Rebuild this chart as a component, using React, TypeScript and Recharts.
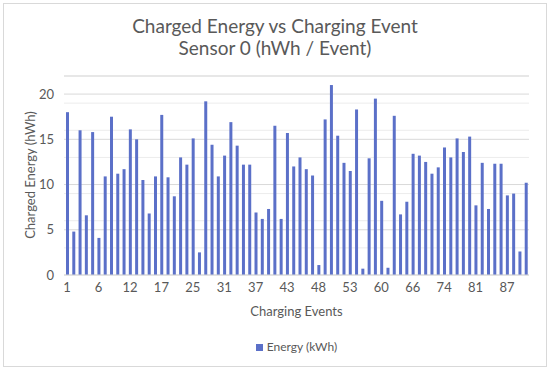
import { BarChart, Bar, XAxis, YAxis, CartesianGrid } from 'recharts'

// charging event ids (only every 5th is labelled on the axis)
const events = [
  1, 2, 3, 4, 5, 6, 7, 8, 10, 11, 12, 13, 14, 15, 16, 17, 19, 20, 22, 23,
  25, 26, 28, 29, 30, 31, 32, 34, 35, 36, 37, 38, 39, 41, 42, 43, 44, 45, 46, 47,
  48, 49, 50, 51, 52, 53, 55, 56, 57, 59, 60, 61, 62, 64, 65, 66, 68, 69, 71, 72,
  74, 75, 77, 78, 80, 81, 82, 83, 85, 86, 87, 88, 89, 90,
]

// energy per event (kWh)
const energy = [
  18.0, 4.8, 16.0, 6.6, 15.8, 4.1, 10.9, 17.5, 11.2, 11.7, 16.1, 15.0, 10.5, 6.8, 10.9, 17.7, 10.8, 8.7, 13.0, 12.2,
  15.1, 2.5, 19.2, 14.4, 10.9, 13.2, 16.9, 14.3, 12.2, 12.2, 6.9, 6.2, 7.3, 16.5, 6.2, 15.7, 12.0, 13.0, 11.7, 11.0,
  1.1, 17.2, 21.0, 15.4, 12.4, 11.5, 18.3, 0.7, 12.9, 19.5, 8.2, 0.8, 17.6, 6.7, 8.1, 13.4, 13.2, 12.5, 11.2, 11.9,
  14.1, 13.0, 15.1, 13.6, 15.3, 7.7, 12.4, 7.3, 12.3, 12.3, 8.8, 9.0, 2.6, 10.2,
]

const yTicks = [0, 5, 10, 15, 20]
const minorLines = [1, 2, 3, 4, 6, 7, 8, 9, 11, 12, 13, 14, 16, 17, 18, 19, 21, 22]

const data = events.map((e, i) => ({ event: String(e), energy: energy[i] }))

const font = 'Lato, "Open Sans", sans-serif'
const grey = '#595959'
const barColor = '#5b70c8'

export default function App() {
  return (
    <div style={{ position: 'absolute', left: 0, top: 0, width: 550, height: 370, background: '#fff', fontFamily: font, color: grey }}>
      <div style={{ position: 'absolute', left: 3, top: 3, right: 3, bottom: 3, border: '1px solid #d9d9d9' }} />
      <div style={{ position: 'absolute', top: 15, width: 550, textAlign: 'center', fontSize: 19, lineHeight: '22px' }}>
        Charged Energy vs Charging Event<br />Sensor 0 (hWh / Event)
      </div>
      <div style={{ position: 'absolute', left: 30, top: 175, transform: 'translate(-50%, -50%) rotate(-90deg)', whiteSpace: 'nowrap', fontSize: 13 }}>
        Charged Energy (hWh)
      </div>
      <div style={{ position: 'absolute', left: 64, width: 465, top: 303, textAlign: 'center', fontSize: 13 }}>
        Charging Events
      </div>
      <div style={{ position: 'absolute', left: 64, width: 465, top: 339, textAlign: 'center', fontSize: 12 }}>
        <span style={{ display: 'inline-block', width: 7, height: 7, background: barColor, marginRight: 4 }} />
        Energy (kWh)
      </div>
      <BarChart
        width={550}
        height={370}
        data={data}
        margin={{ top: 76, right: 21, left: 0, bottom: 65 }}
        style={{ position: 'absolute', left: 0, top: 0 }}
      >
        <CartesianGrid vertical={false} horizontalValues={minorLines} stroke="#ececec" />
        <CartesianGrid vertical={false} stroke="#d9d9d9" />
        <XAxis
          dataKey="event"
          interval={4}
          tickLine={false}
          axisLine={{ stroke: '#d9d9d9' }}
          tick={{ fill: grey, fontSize: 13, fontFamily: font }}
          height={30}
        />
        <YAxis
          domain={[0, 22]}
          ticks={yTicks}
          tickLine={false}
          axisLine={false}
          tick={{ fill: grey, fontSize: 13, fontFamily: font }}
          tickMargin={4}
          width={64}
        />
        <Bar dataKey="energy" fill={barColor} barSize={3} isAnimationActive={false} />
      </BarChart>
    </div>
  )
}
